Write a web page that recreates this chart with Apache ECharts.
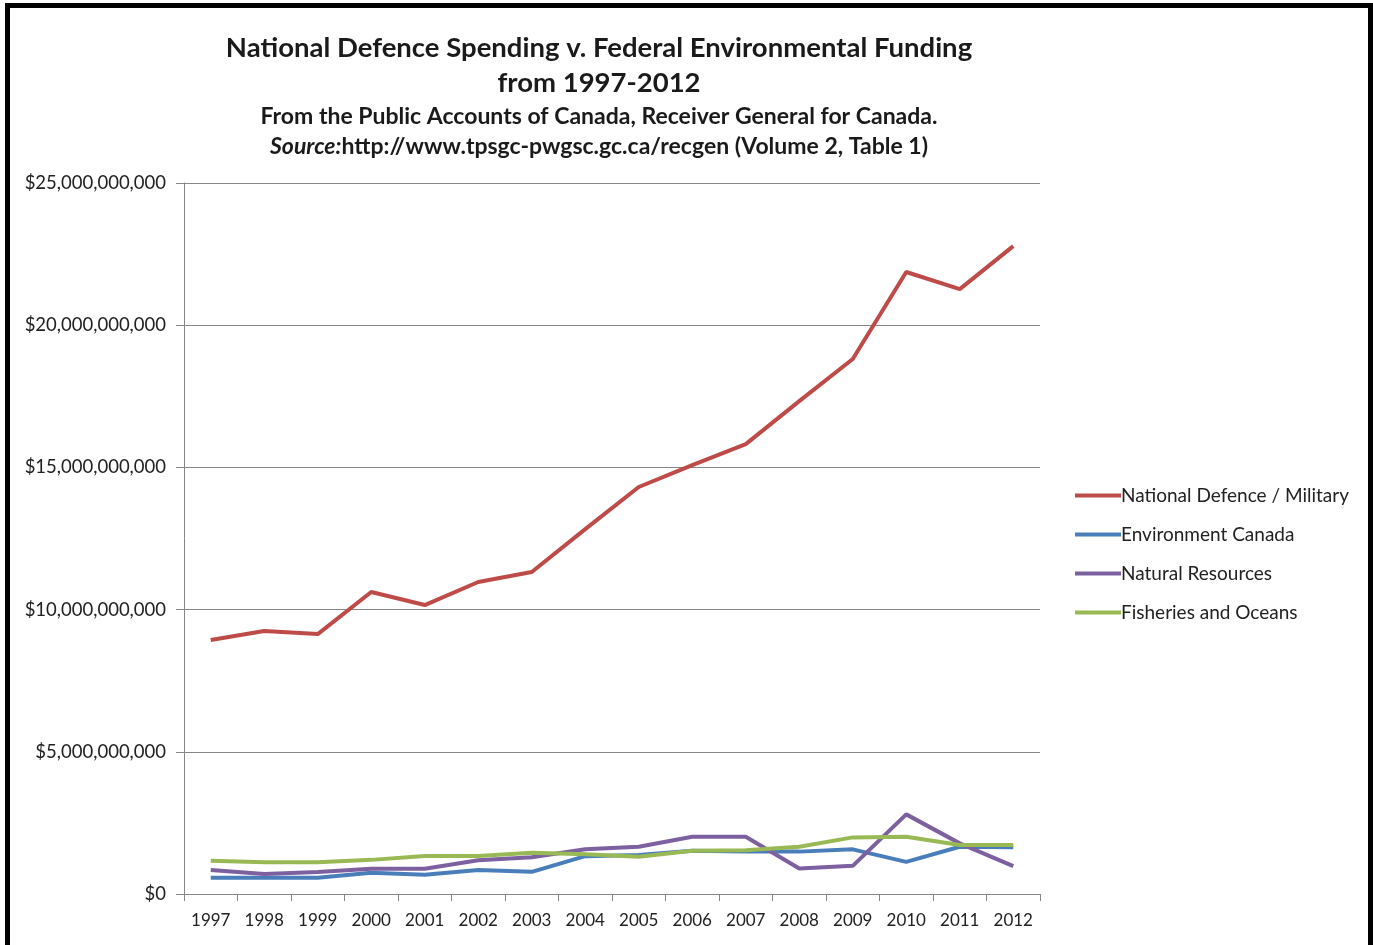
<!DOCTYPE html>
<html>
<head>
<meta charset="utf-8">
<script src="https://cdn.jsdelivr.net/npm/echarts@6/dist/echarts.min.js"></script>
<style>
html,body{margin:0;padding:0;background:#fff;overflow:hidden;}
#frame{position:absolute;left:5px;top:3px;width:1358px;height:960px;border:5px solid #000;border-bottom:none;box-sizing:content-box;}
#chart{position:absolute;left:0;top:0;width:1373px;height:945px;}
</style>
</head>
<body>
<div id="chart"></div>
<div id="frame"></div>
<script>
const years = ['1997','1998','1999','2000','2001','2002','2003','2004','2005','2006','2007','2008','2009','2010','2011','2012'];
const defence = [8.93e9, 9.25e9, 9.14e9, 10.62e9, 10.16e9, 10.97e9, 11.32e9, 12.83e9, 14.31e9, 15.08e9, 15.82e9, 17.33e9, 18.81e9, 21.87e9, 21.27e9, 22.78e9];
const environment = [0.57e9, 0.57e9, 0.57e9, 0.75e9, 0.68e9, 0.84e9, 0.78e9, 1.33e9, 1.37e9, 1.52e9, 1.49e9, 1.49e9, 1.57e9, 1.13e9, 1.66e9, 1.64e9];
const resources = [0.84e9, 0.70e9, 0.77e9, 0.89e9, 0.89e9, 1.19e9, 1.29e9, 1.57e9, 1.66e9, 2.01e9, 2.01e9, 0.90e9, 0.99e9, 2.80e9, 1.78e9, 0.98e9];
const fisheries = [1.17e9, 1.12e9, 1.12e9, 1.20e9, 1.34e9, 1.34e9, 1.45e9, 1.40e9, 1.31e9, 1.52e9, 1.54e9, 1.66e9, 1.99e9, 2.01e9, 1.72e9, 1.72e9];
const seriesNames = ['National Defence / Military', 'Environment Canada', 'Natural Resources', 'Fisheries and Oceans'];
const seriesColors = ['#BE4B48', '#4A7EBB', '#7D60A0', '#98B954'];

const font = 'Lato, "Noto Sans", sans-serif';
const chart = echarts.init(document.getElementById('chart'));
const dataSets = [defence, environment, resources, fisheries];
chart.setOption({
  animation: false,
  backgroundColor: '#fff',
  title: [
    {
      text: 'National Defence Spending v. Federal Environmental Funding\nfrom 1997-2012',
      left: 594, top: 26, textAlign: 'center',
      textStyle: {fontFamily: font, fontSize: 27.5, fontWeight: 'bold', color: '#1a1a1a', lineHeight: 35}
    },
    {
      text: 'From the Public Accounts of Canada, Receiver General for Canada.\n{i|Source:}http://www.tpsgc-pwgsc.gc.ca/recgen (Volume 2, Table 1)',
      left: 594, top: 97, textAlign: 'center',
      textStyle: {fontFamily: font, fontSize: 23, fontWeight: 'bold', color: '#1a1a1a', lineHeight: 30,
        rich: {i: {fontFamily: font, fontSize: 23, fontWeight: 'bold', fontStyle: 'italic', color: '#1a1a1a', lineHeight: 30}}}
    }
  ],
  legend: {
    orient: 'vertical', left: 1070, top: 481,
    itemWidth: 46, itemHeight: 4, itemGap: 20, icon: 'rect',
    textStyle: {fontFamily: font, fontSize: 19, color: '#222', padding: [0,0,0,-5]},
    data: seriesNames
  },
  grid: {left: 184, top: 183, right: 333, bottom: 51, containLabel: false},
  xAxis: {
    type: 'category', data: years, boundaryGap: true,
    axisLine: {lineStyle: {color: '#868686', width: 1}},
    axisTick: {show: true, length: 7, lineStyle: {color: '#868686'}},
    axisLabel: {fontFamily: font, fontSize: 17, color: '#222', margin: 18}
  },
  yAxis: {
    type: 'value', min: 0, max: 25e9, interval: 5e9,
    axisLine: {show: true, lineStyle: {color: '#868686', width: 1}},
    axisTick: {show: true, length: 8, lineStyle: {color: '#868686'}},
    splitLine: {lineStyle: {color: '#868686', width: 1}},
    axisLabel: {fontFamily: font, fontSize: 18.5, color: '#222', margin: 18,
      formatter: v => '$' + v.toLocaleString('en-US')}
  },
  series: seriesNames.map((n, i) => ({
    name: n, type: 'line', data: dataSets[i], symbol: 'none',
    lineStyle: {width: 4, color: seriesColors[i]}, itemStyle: {color: seriesColors[i]}
  }))
});
</script>
</body>
</html>
